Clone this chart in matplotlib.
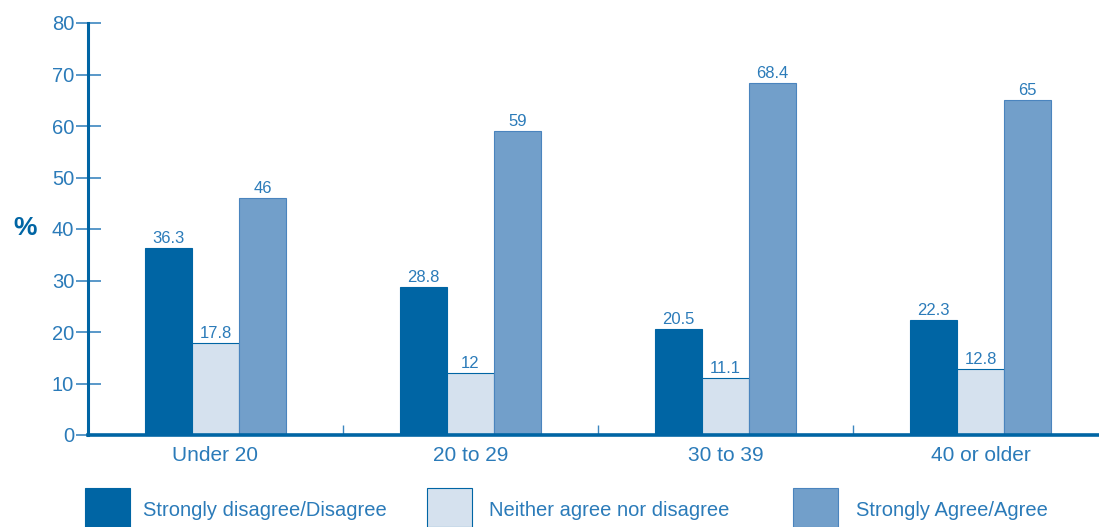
import matplotlib.pyplot as plt
import numpy as np
from matplotlib.patches import Rectangle

plt.rcParams['font.family'] = ['Liberation Sans', 'DejaVu Sans']

# data
age_groups = ["Under 20", "20 to 29", "30 to 39", "40 or older"]
series_names = ["Strongly disagree/Disagree", "Neither agree nor disagree", "Strongly Agree/Agree"]
disagree = [36.3, 28.8, 20.5, 22.3]
neither = [17.8, 12, 11.1, 12.8]
agree = [46, 59, 68.4, 65]
y_ticks = [0, 10, 20, 30, 40, 50, 60, 70, 80]

dark = "#0065a4"
light = "#d5e1ee"
mid = "#729fca"
text_col = "#2b7bb9"

fig = plt.figure(figsize=(10.99, 5.27), dpi=100)
W, H = 1099, 527
# axes from x=88 to 1108 px, y=435 to 23 px
ax = fig.add_axes([88 / W, (H - 435) / H, (1108 - 88) / W, (435 - 23) / H])

x = np.arange(len(age_groups))
bw = 0.184
series = [disagree, neither, agree]
fills = [dark, light, mid]
edges = [dark, dark, "#4a84be"]
for i, (vals, fc, ec) in enumerate(zip(series, fills, edges)):
    pos = x + (i - 1) * bw
    ax.bar(pos, vals, width=bw, color=fc, edgecolor=ec, linewidth=0.8, zorder=2)
    for p, v in zip(pos, vals):
        ax.text(p, v + 0.4, f"{v:g}", ha="center", va="bottom",
                fontsize=12, color=text_col)

ax.set_xlim(-0.5, 3.5)
ax.set_ylim(0, 80)
ax.set_yticks(y_ticks)
ax.set_xticks(x)
ax.set_xticklabels(age_groups)
ax.set_xticks([0.5, 1.5, 2.5], minor=True)

for s in ["top", "right"]:
    ax.spines[s].set_visible(False)
ax.spines["left"].set_color(dark)
ax.spines["left"].set_linewidth(2.2)
ax.spines["bottom"].set_color(dark)
ax.spines["bottom"].set_linewidth(2.6)
ax.spines["bottom"].set_zorder(3)

ax.tick_params(axis="y", direction="inout", length=18, width=1.2,
               color="#3c86c0", labelcolor=text_col, labelsize=14.5, pad=1)
ax.tick_params(axis="x", which="major", length=0, labelcolor=text_col,
               labelsize=15, pad=8)
ax.tick_params(axis="x", which="minor", direction="in", length=7, width=1,
               color="#3c86c0")

fig.text(25 / W, 1 - 228 / H, "%", fontsize=19, fontweight="bold",
         color=dark, ha="center", va="center")

# legend (manual, laid out like the original)
patch_x = [85, 427, 793]
label_x = [143, 489, 856]
for px, lx, name, fc, ec in zip(patch_x, label_x, series_names, fills, edges):
    fig.add_artist(Rectangle((px / W, 0), 45 / W, (527 - 488) / H,
                             transform=fig.transFigure, facecolor=fc,
                             edgecolor=ec, linewidth=0.8))
    fig.text(lx / W, 1 - 511 / H, name, fontsize=14.5,
             color=text_col, va="center", ha="left")

plt.savefig("out.png", dpi=100)
